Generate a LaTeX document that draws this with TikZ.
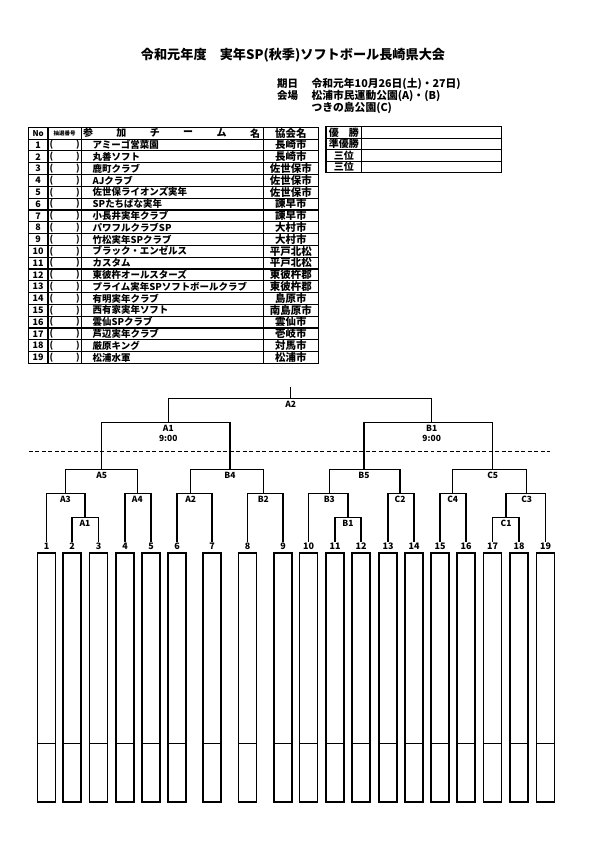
\documentclass[tikz,border=0pt]{standalone}
\usepackage{fontspec}
\setmainfont{Noto Sans CJK JP}
\newcommand{\fsz}[1]{\fontsize{#1}{#1}\selectfont\bfseries}
\tikzset{
  every node/.append style={inner sep=0pt},
  bracket/.style={line width=1.35pt},
  grid/.style={line width=1.2pt},
  matchlbl/.style={below=2.5pt, font=\fsz{8.5}, align=center},
  leafno/.style={font=\fsz{9}, outer sep=1.5pt},
}

\begin{document}
\begin{tikzpicture}[x=1bp, y=-1bp]
    \useasboundingbox (0,0) rectangle (595,842);
    % title and dates
    \node[font=\fsz{13.2}] (title) at (293,55) {令和元年度　実年SP(秋季)ソフトボール長崎県大会};
    \node[font=\fsz{10.5}, anchor=west] (datelbl) at (277,83.5) {期日};
    \node[font=\fsz{10.8}, anchor=west] (date) at (311.5,83.5) {令和元年10月26日(土)・27日)};
    \node[font=\fsz{10.5}, anchor=west] (venuelbl) at (277,96) {会場};
    \node[font=\fsz{10.8}, anchor=west] (venue) at (311.5,96) {松浦市民運動公園(A)・(B)};
    \node[font=\fsz{10.8}, anchor=west] (venue2) at (311.5,108) {つきの島公園(C)};

    % entry table
    \draw[grid, line width=1.5pt] (28.5,127.3) rectangle (318.3,363.3);
    \foreach \k in {1,...,19} \draw[grid] (28.5,127.3+11.8*\k) -- (318.3,127.3+11.8*\k);
    \foreach \x in {48,81.3,263.3} \draw[grid] (\x,127.3) -- (\x,363.3);
    \node[font=\fsz{8}] (hno) at (38.2,133.2) {No};
    \node[font=\fsz{5.5}] (hlot) at (64.6,133.2) {抽選番号};
    \foreach \c [count=\i from 0] in {参,加,チ,ー,ム,名}
        \node[font=\fsz{10}] (hteam\i) at (88+33.4*\i,133.2) {\c};
    \node[font=\fsz{10.5}] (hassoc) at (290.8,133.2) {協会名};
    \foreach \team/\assoc [count=\i] in {アミーゴ営菜園/長崎市, 丸善ソフト/長崎市, 鹿町クラブ/佐世保市,
        AJクラブ/佐世保市, 佐世保ライオンズ実年/佐世保市, SPたちばな実年/諫早市, 小長井実年クラブ/諫早市,
        パワフルクラブSP/大村市, 竹松実年SPクラブ/大村市, ブラック・エンゼルス/平戸北松, カスタム/平戸北松,
        東彼杵オールスターズ/東彼杵郡, プライム実年SPソフトボールクラブ/東彼杵郡, 有明実年クラブ/島原市,
        西有家実年ソフト/南島原市, 雲仙SPクラブ/雲仙市, 芦辺実年クラブ/壱岐市, 厳原キング/対馬市,
        松浦水軍/松浦市} {
        \node[font=\fsz{9}] (no\i) at (38.2,133.2+11.8*\i) {\i};
        \node[font=\fsz{9}] (lp\i) at (51.5,133.2+11.8*\i) {(};
        \node[font=\fsz{9}] (rp\i) at (78,133.2+11.8*\i) {)};
        \node[font=\fsz{9.5}, anchor=west] (team\i) at (92.5,133.2+11.8*\i) {\team};
        \node[font=\fsz{10.5}] (assoc\i) at (290.8,133.2+11.8*\i) {\assoc};
    }

    % results
    \draw[grid, line width=1.5pt] (326,126.7) rectangle (501.7,172.7);
    \foreach \k in {1,2,3} \draw[grid] (326,126.7+11.5*\k) -- (501.7,126.7+11.5*\k);
    \draw[grid] (361.7,126.7) -- (361.7,172.7);
    \foreach \r [count=\i from 0] in {優　勝,準優勝,三位,三位}
        \node[font=\fsz{10}] (res\i) at (343.8,132.45+11.5*\i) {\r};

    % bracket
    \coordinate (champ) at (290.7,386.7);
    \coordinate (L1A2) at (290.7,398.3);
    \coordinate (L2A1) at (168.3,422.7);
    \coordinate (L2B1) at (431.7,422.7);
    \coordinate (L3A5) at (101.7,469.3);
    \coordinate (L3B4) at (230,469.3);
    \coordinate (L3B5) at (364,469.3);
    \coordinate (L3C5) at (492.7,469.3);
    \coordinate (L4A3) at (65.5,493.3);
    \coordinate (L4A4) at (137.3,493.3);
    \coordinate (L4A2) at (190.7,493.3);
    \coordinate (L4B2) at (263.3,493.3);
    \coordinate (L4B3) at (329.3,493.3);
    \coordinate (L4C2) at (400,493.3);
    \coordinate (L4C4) at (452.7,493.3);
    \coordinate (L4C3) at (526.7,493.3);
    \coordinate (L5A1) at (85,517.7);
    \coordinate (L5B1) at (348,517.7);
    \coordinate (L5C1) at (506,517.7);

    \foreach \x [count=\i] in {46.5,72,98.5,125,151,177,212,247.5,283,308.5,335,361,388,414,440,466,492.5,519,545.5} {
        \node[leafno] (n\i) at (\x,546.5) {\i};
        \draw[bracket] (\x-9,553) rectangle (\x+9,802);
        \draw[bracket] (\x-9,743.3) -- (\x+9,743.3);
    }

    \draw[bracket] (champ) -- (L1A2);
    \draw[bracket] (L2A1) |- (L1A2) -| (L2B1);
    \draw[bracket] (L3A5) |- (L2A1) -| (L3B4);
    \draw[bracket] (L3B5) |- (L2B1) -| (L3C5);
    \draw[bracket] (L4A3) |- (L3A5) -| (L4A4);
    \draw[bracket] (L4A2) |- (L3B4) -| (L4B2);
    \draw[bracket] (L4B3) |- (L3B5) -| (L4C2);
    \draw[bracket] (L4C4) |- (L3C5) -| (L4C3);
    \draw[bracket] (n1) |- (L4A3) -| (L5A1);
    \draw[bracket] (n2) |- (L5A1) -| (n3);
    \draw[bracket] (n4) |- (L4A4) -| (n5);
    \draw[bracket] (n6) |- (L4A2) -| (n7);
    \draw[bracket] (n8) |- (L4B2) -| (n9);
    \draw[bracket] (n10) |- (L4B3) -| (L5B1);
    \draw[bracket] (n11) |- (L5B1) -| (n12);
    \draw[bracket] (n13) |- (L4C2) -| (n14);
    \draw[bracket] (n15) |- (L4C4) -| (n16);
    \draw[bracket] (L5C1) |- (L4C3) -| (n19);
    \draw[bracket] (n17) |- (L5C1) -| (n18);

    \foreach \p/\t in {L1A2/A2, L3A5/A5, L3B4/B4, L3B5/B5, L3C5/C5, L4A3/A3, L4A4/A4, L4A2/A2,
        L4B2/B2, L4B3/B3, L4C2/C2, L4C4/C4, L4C3/C3, L5A1/A1, L5B1/B1, L5C1/C1}
        \node[matchlbl] at (\p) {\t};
    \node[matchlbl] at (L2A1) {A1\\[1.5pt]9:00};
    \node[matchlbl] at (L2B1) {B1\\[1.5pt]9:00};

    % day split
    \draw[line width=1pt, dash pattern=on 4pt off 2.5pt] (29,451.7) -- (550,451.7);
\end{tikzpicture}
\end{document}
